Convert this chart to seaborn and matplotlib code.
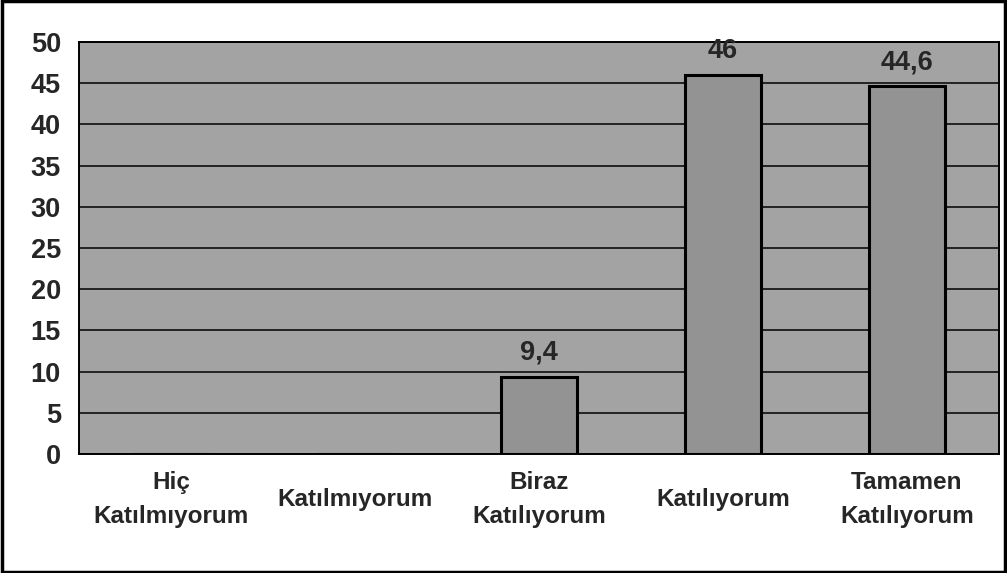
import matplotlib
matplotlib.use("Agg")
import matplotlib.pyplot as plt
import seaborn as sns
import pandas as pd

categories = ["Hiç\nKatılmıyorum", "Katılmıyorum", "Biraz\nKatılıyorum", "Katılıyorum", "Tamamen\nKatılıyorum"]
values = [0, 0, 9.4, 46, 44.6]
labels = ["", "", "9,4", "46", "44,6"]
yticks = [0, 5, 10, 15, 20, 25, 30, 35, 40, 45, 50]

sns.set_style("white")
plt.rcParams['font.family'] = ['Liberation Sans', 'DejaVu Sans']

df = pd.DataFrame({"cat": categories, "val": values})

fig = plt.figure(figsize=(10.07, 5.73), dpi=100)
fig.patch.set_facecolor("white")
ax = fig.add_axes([0.0785, 0.2077, 0.9135, 0.719])
ax.set_facecolor("#a3a3a3")

sns.barplot(data=df, x="cat", y="val", ax=ax, color="#939393", width=0.41,
            edgecolor="black", linewidth=2.2, saturation=1, zorder=3)
for p in ax.patches:
    p.set_zorder(3)

ax.set_ylim(0, 50)
ax.set_xlim(-0.5, 4.5)
ax.set_yticks(yticks)
ax.set_yticklabels([str(v) for v in yticks], fontsize=19.5, fontweight="bold")
ax.yaxis.grid(True, color="black", linewidth=1.1, zorder=1)
ax.set_axisbelow(True)
ax.set_xlabel("")
ax.set_ylabel("")
ax.set_xticks(range(len(categories)))
ax.set_xticklabels(categories, fontsize=17.5, fontweight="bold", linespacing=1.6, va="center")
ax.tick_params(axis="x", length=0, pad=32.5)
# ticks at category boundaries
ax.set_xticks([i + 0.5 for i in range(-1, len(categories))], minor=True)
ax.tick_params(axis="x", which="minor", length=6, width=1.3, direction="out", color="black")
ax.tick_params(axis="y", length=6, width=1.3, direction="out", color="black", pad=7)
for s in ax.spines.values():
    s.set_color("black")
    s.set_linewidth(1.4)

for i, (v, lab) in enumerate(zip(values, labels)):
    if lab:
        ax.text(i, v + 2.1, lab, ha="center", va="baseline", fontsize=19.5,
                fontweight="bold", zorder=4)

# figure border
fig.add_artist(plt.Rectangle((0.002, 0.002), 0.996, 0.996, transform=fig.transFigure,
                             fill=False, edgecolor="black", linewidth=2.5))

fig.savefig("out.png", dpi=100)
